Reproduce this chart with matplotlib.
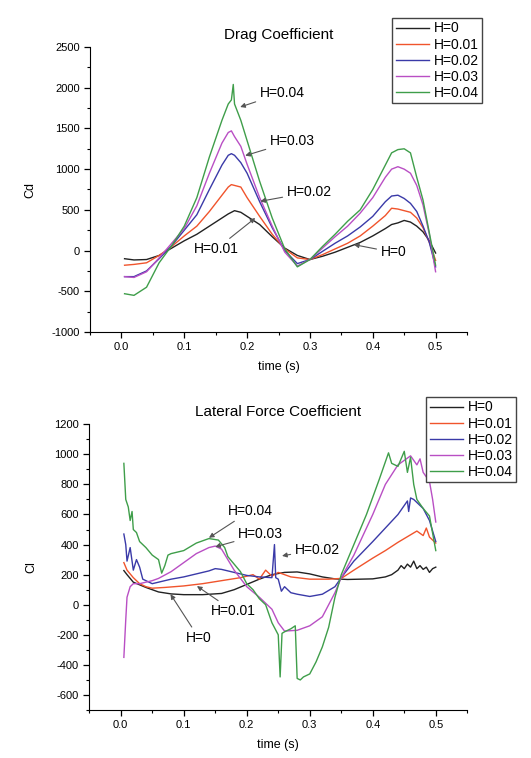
import matplotlib
matplotlib.use('Agg')
import matplotlib.pyplot as plt
from matplotlib.ticker import MultipleLocator

plt.rcParams['font.family'] = ['Liberation Sans', 'DejaVu Sans']
plt.rcParams['axes.unicode_minus'] = False

labels = ['H=0', 'H=0.01', 'H=0.02', 'H=0.03', 'H=0.04']
colors = ['#222222', '#f0542c', '#3a3aa8', '#b94fc4', '#3f9e4a']

# Drag coefficient
t_cd = [0.005, 0.02, 0.04, 0.06, 0.08, 0.1, 0.12, 0.14, 0.16, 0.17, 0.175, 0.18, 0.19, 0.2,
        0.22, 0.24, 0.26, 0.28, 0.3, 0.32, 0.34, 0.36, 0.38, 0.4, 0.42, 0.43, 0.44, 0.45,
        0.46, 0.47, 0.48, 0.49, 0.5]
cd_h0 = [-100, -115, -110, -60, 30, 120, 200, 300, 400, 450, 470, 490, 470, 420,
         320, 170, 30, -60, -110, -70, -20, 40, 100, 180, 270, 320, 340, 370,
         350, 300, 230, 120, -30]
cd_h1 = [-180, -170, -150, -60, 50, 180, 300, 480, 680, 780, 810, 800, 780, 650,
         420, 200, 20, -90, -110, -50, 20, 90, 180, 300, 430, 520, 510, 490,
         470, 400, 280, 100, -120]
cd_h2 = [-320, -320, -250, -100, 60, 250, 440, 750, 1050, 1170, 1190, 1170, 1080, 950,
         600, 280, 0, -160, -110, -10, 90, 180, 290, 420, 600, 670, 680, 640,
         580, 480, 300, 100, -200]
cd_h3 = [-320, -330, -260, -90, 90, 270, 550, 950, 1320, 1450, 1470, 1400, 1280, 1060,
         650, 300, -20, -190, -110, 30, 170, 300, 460, 650, 900, 1000, 1030, 1000,
         950, 800, 560, 200, -260]
t_cd4 = [0.005, 0.02, 0.04, 0.06, 0.08, 0.1, 0.12, 0.14, 0.16, 0.17, 0.175, 0.178, 0.18, 0.19, 0.2,
         0.22, 0.24, 0.26, 0.28, 0.3, 0.32, 0.34, 0.36, 0.38, 0.4, 0.42, 0.43, 0.44, 0.45,
         0.46, 0.47, 0.48, 0.49, 0.5]
cd_h4 = [-530, -550, -450, -150, 60, 300, 650, 1150, 1600, 1800, 1850, 2040, 1800, 1600, 1350,
         850, 400, 20, -200, -110, 50, 200, 360, 500, 750, 1050, 1200, 1240, 1250,
         1200, 900, 620, 220, -180]

# Lateral force coefficient
t_cl0 = [0.005, 0.01, 0.02, 0.04, 0.06, 0.08, 0.1, 0.13, 0.16, 0.18, 0.2, 0.22, 0.24, 0.26,
         0.28, 0.3, 0.32, 0.34, 0.36, 0.38, 0.4, 0.42, 0.43, 0.44, 0.445, 0.45, 0.455, 0.46,
         0.465, 0.47, 0.475, 0.48, 0.485, 0.49, 0.495, 0.5]
cl_h0 = [227, 200, 150, 115, 85, 72, 67, 67, 75, 100, 135, 170, 200, 215,
         218, 205, 185, 172, 168, 170, 172, 185, 200, 230, 260, 240, 270, 250,
         290, 240, 260, 235, 250, 215, 240, 250]
t_cl1 = [0.005, 0.01, 0.02, 0.03, 0.04, 0.05, 0.07, 0.1, 0.13, 0.16, 0.19, 0.21, 0.22, 0.23,
         0.24, 0.25, 0.27, 0.3, 0.33, 0.35, 0.37, 0.4, 0.42, 0.44, 0.46, 0.47, 0.48, 0.485,
         0.49, 0.5]
cl_h1 = [280, 230, 180, 140, 120, 110, 115, 125, 140, 160, 180, 200, 170, 230,
         190, 215, 185, 170, 170, 175, 230, 310, 360, 415, 465, 490, 460, 510,
         450, 410]
t_cl2 = [0.005, 0.008, 0.01, 0.015, 0.02, 0.025, 0.03, 0.035, 0.04, 0.05, 0.06, 0.08, 0.1,
         0.12, 0.14, 0.15, 0.16, 0.18, 0.2, 0.22, 0.24, 0.244, 0.246, 0.25, 0.255, 0.26,
         0.27, 0.28, 0.3, 0.32, 0.34, 0.35, 0.37, 0.4, 0.42, 0.44, 0.455, 0.457, 0.46,
         0.465, 0.48, 0.49, 0.5]
cl_h2 = [470, 400, 290, 380, 230, 300, 250, 170, 160, 140, 150, 170, 185,
         205, 225, 240, 235, 215, 195, 185, 180, 400, 180, 170, 90, 120,
         80, 70, 55, 70, 120, 180, 290, 420, 510, 600, 690, 620, 710,
         700, 640, 560, 420]
t_cl3 = [0.005, 0.008, 0.01, 0.015, 0.02, 0.03, 0.04, 0.05, 0.06, 0.08, 0.1, 0.12, 0.14,
         0.15, 0.16, 0.17, 0.18, 0.2, 0.22, 0.24, 0.25, 0.26, 0.28, 0.3, 0.32, 0.34, 0.35,
         0.37, 0.4, 0.42, 0.44, 0.45, 0.46, 0.47, 0.475, 0.48, 0.49, 0.495, 0.5]
cl_h3 = [-350, -100, 50, 120, 140, 140, 150, 160, 175, 220, 280, 340, 380,
         390, 370, 300, 230, 120, 50, -30, -120, -175, -170, -140, -80, 80, 180,
         330, 600, 800, 930, 960, 990, 930, 970, 880, 820, 700, 550]
t_cl4 = [0.005, 0.008, 0.012, 0.015, 0.018, 0.02, 0.025, 0.03, 0.04, 0.05, 0.06, 0.065,
         0.07, 0.075, 0.08, 0.1, 0.12, 0.14, 0.155, 0.165, 0.17, 0.18, 0.19, 0.2, 0.21,
         0.22, 0.23, 0.24, 0.25, 0.253, 0.256, 0.26, 0.27, 0.277, 0.28, 0.285, 0.29, 0.3,
         0.31, 0.32, 0.33, 0.34, 0.35, 0.37, 0.39, 0.41, 0.425, 0.43, 0.44, 0.45, 0.455,
         0.46, 0.465, 0.47, 0.48, 0.49, 0.5]
cl_h4 = [940, 700, 650, 560, 620, 500, 480, 420, 380, 330, 300, 210,
         260, 330, 340, 360, 410, 440, 430, 380, 320, 270, 220, 140, 100,
         40, 0, -120, -200, -480, -190, -180, -160, -140, -490, -500, -480, -460,
         -380, -280, -150, 50, 200, 400, 600, 830, 1010, 940, 920, 1020, 880,
         980, 800, 700, 640, 590, 360]

# annotation text position, arrow tip (data coords)
cd_notes = [('H=0.04', (0.256, 1935), (0.189, 1763)),
            ('H=0.03', (0.272, 1342), (0.197, 1166)),
            ('H=0.02', (0.299, 715), (0.221, 605)),
            ('H=0.01', (0.151, 19), (0.213, 400)),
            ('H=0', (0.433, -22), (0.370, 73))]
cl_notes = [('H=0.04', (0.206, 625), (0.140, 445)),
            ('H=0.03', (0.222, 469), (0.150, 385)),
            ('H=0.02', (0.312, 365), (0.256, 325)),
            ('H=0.01', (0.179, -43), (0.121, 124)),
            ('H=0', (0.124, -221), (0.079, 70))]


def style_axes(ax, ymaj, ymin):
    ax.spines['top'].set_visible(False)
    ax.spines['right'].set_visible(False)
    ax.xaxis.set_major_locator(MultipleLocator(0.1))
    ax.xaxis.set_minor_locator(MultipleLocator(0.05))
    ax.yaxis.set_major_locator(MultipleLocator(ymaj))
    ax.yaxis.set_minor_locator(MultipleLocator(ymin))
    ax.tick_params(which='major', length=4, width=0.9, labelsize=8)
    ax.tick_params(which='minor', length=2.5, width=0.8)
    ax.set_xlim(-0.05, 0.55)
    ax.set_xlabel('time (s)', fontsize=9, labelpad=6)


def annotate(ax, notes):
    for text, xy_text, xy_tip in notes:
        ax.annotate(text, xy=xy_tip, xytext=xy_text, fontsize=10, ha='center', va='center',
                    arrowprops=dict(arrowstyle='-|>', color='#555555', lw=0.8,
                                    mutation_scale=7, shrinkA=1, shrinkB=0))


fig = plt.figure(figsize=(5.31, 7.58), dpi=100)

ax1 = fig.add_axes([0.1695, 0.562, 0.71, 0.376])
for t, v, c, lab in zip([t_cd, t_cd, t_cd, t_cd, t_cd4], [cd_h0, cd_h1, cd_h2, cd_h3, cd_h4], colors, labels):
    ax1.plot(t, v, color=c, lw=1.0, label=lab)
style_axes(ax1, 500, 250)
ax1.set_ylim(-1000, 2500)
ax1.set_ylabel('Cd', fontsize=9, labelpad=11)
ax1.set_title('Drag Coefficient', fontsize=11, pad=6)
annotate(ax1, cd_notes)
ax1.legend(loc='upper right', bbox_to_anchor=(482 / 531, 1 - 18 / 758), bbox_transform=fig.transFigure,
           fontsize=10, frameon=True, fancybox=False, edgecolor='#444444', framealpha=1,
           handlelength=2.4, handletextpad=0.3, labelspacing=0.15, borderpad=0.25, borderaxespad=0)

ax2 = fig.add_axes([0.168, 0.0633, 0.712, 0.377])
for t, v, c, lab in zip([t_cl0, t_cl1, t_cl2, t_cl3, t_cl4], [cl_h0, cl_h1, cl_h2, cl_h3, cl_h4], colors, labels):
    ax2.plot(t, v, color=c, lw=1.0, label=lab)
style_axes(ax2, 200, 100)
ax2.set_ylim(-700, 1200)
ax2.set_ylabel('Cl', fontsize=9, labelpad=12)
ax2.set_title('Lateral Force Coefficient', fontsize=11, pad=6)
annotate(ax2, cl_notes)
ax2.legend(loc='upper right', bbox_to_anchor=(516 / 531, 1 - 397 / 758), bbox_transform=fig.transFigure,
           fontsize=10, frameon=True, fancybox=False, edgecolor='#444444', framealpha=1,
           handlelength=2.4, handletextpad=0.3, labelspacing=0.15, borderpad=0.25, borderaxespad=0)

fig.savefig('out.png', dpi=100)
